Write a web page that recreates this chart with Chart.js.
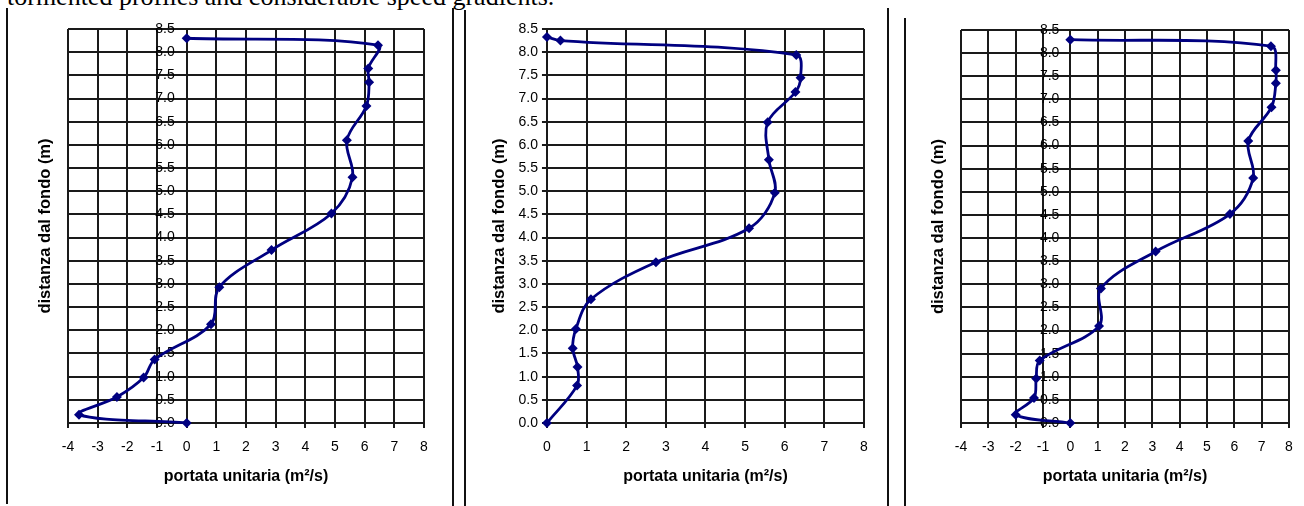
<!DOCTYPE html>
<html>
<head>
<meta charset="utf-8">
<script src="https://cdn.jsdelivr.net/npm/chart.js@4.4.1/dist/chart.umd.min.js"></script>
<style>
  html, body { margin: 0; padding: 0; background: #fff; }
  body { width: 1304px; height: 506px; position: relative; overflow: hidden; }
  .caption { position: absolute; left: 7px; top: -16px; font: 26px/26px "Liberation Serif", "Times New Roman", serif; color: #000; white-space: nowrap; }
  .rule { position: absolute; width: 2px; background: #111; bottom: 0; }
  .panel { position: absolute; top: 0; height: 506px; }
</style>
</head>
<body>
<div class="caption">tormented profiles and considerable speed gradients.</div>
<div class="rule" style="left:6px; top:8px; bottom:2px"></div>
<div class="rule" style="left:452px; top:8px"></div>
<div class="rule" style="left:464px; top:10px"></div>
<div class="rule" style="left:887px; top:8px"></div>
<div class="rule" style="left:904px; top:18px"></div>

<div class="panel" style="left:10px; width:440px"><canvas id="chart1"></canvas></div>
<div class="panel" style="left:470px; width:415px"><canvas id="chart2"></canvas></div>
<div class="panel" style="left:908px; width:396px"><canvas id="chart3"></canvas></div>

<script>
// profilo 1
const depth1 = [0, 0.18, 0.56, 0.98, 1.37, 2.13, 2.93, 3.73, 4.52, 5.30, 6.10, 6.84, 7.35, 7.65, 8.15, 8.30];
const flow1  = [0, -3.63, -2.35, -1.45, -1.08, 0.82, 1.10, 2.86, 4.88, 5.59, 5.40, 6.06, 6.15, 6.12, 6.45, 0];

// profilo 2
const depth2 = [0, 0.81, 1.21, 1.61, 2.03, 2.67, 3.47, 4.20, 4.97, 5.68, 6.49, 7.14, 7.45, 7.94, 8.25, 8.33];
const flow2  = [0, 0.76, 0.77, 0.65, 0.73, 1.11, 2.75, 5.10, 5.75, 5.60, 5.57, 6.27, 6.40, 6.29, 0.34, 0];

// profilo 3
const depth3 = [0, 0.18, 0.54, 0.96, 1.35, 2.10, 2.91, 3.71, 4.52, 5.30, 6.10, 6.83, 7.35, 7.63, 8.15, 8.29];
const flow3  = [0, -2.00, -1.33, -1.25, -1.12, 1.05, 1.12, 3.12, 5.84, 6.69, 6.51, 7.36, 7.52, 7.52, 7.34, 0];

const xTitle = 'portata unitaria (m\u00B2/s)';
const yTitle = 'distanza dal fondo (m)';

Chart.defaults.font.family = '"Liberation Sans", Arial, sans-serif';
Chart.defaults.color = '#000';

const gridColor = '#1a1a1a';
const lineColor = '#000080';

function makePanel(id, flows, depths, cfg) {
  const points = flows.map((v, i) => ({ x: v, y: depths[i] }));

  const scales = {
    x: {
      type: 'linear',
      position: 'bottom',
      min: cfg.xMin,
      max: 8,
      ticks: { stepSize: 1, maxRotation: 0, padding: 11, font: { size: 14 } },
      grid: { color: gridColor, lineWidth: 2, tickLength: 5 },
      border: { color: gridColor, width: 2 },
      title: {
        display: true, text: xTitle,
        font: { size: 16, weight: 'bold' },
        padding: { top: 0.6, bottom: 9.4 }
      }
    },
    y: {
      type: 'linear',
      min: 0,
      max: 8.5,
      // nei grafici con valori negativi le etichette stanno accanto a x = 0
      position: cfg.yAtZero ? { x: -0.4 } : 'left',
      ticks: {
        stepSize: 0.5, padding: 4, font: { size: 14 },
        callback: v => v.toFixed(1)
      },
      grid: { color: gridColor, lineWidth: 2, tickLength: 5, drawTicks: !cfg.yAtZero },
      border: { display: !cfg.yAtZero, color: gridColor, width: 2 },
      title: cfg.yAtZero ? { display: false } : {
        display: true, text: yTitle,
        font: { size: 16.5, weight: 'bold' },
        padding: { top: cfg.titleTop, bottom: cfg.titleBottom }
      }
    }
  };

  // con l'asse y spostato verso x = 0 il titolo va su un asse vuoto a sinistra
  if (cfg.yAtZero) {
    scales.yTitle = {
      type: 'linear', axis: 'y', position: 'left', min: 0, max: 8.5,
      ticks: { display: false },
      grid: { display: false, drawTicks: false },
      border: { display: false },
      title: {
        display: true, text: yTitle,
        font: { size: 16.5, weight: 'bold' },
        padding: { top: cfg.titleTop, bottom: cfg.titleBottom }
      }
    };
  }

  return new Chart(document.getElementById(id), {
    type: 'scatter',
    data: {
      datasets: [{
        data: points,
        showLine: true,
        borderColor: lineColor,
        backgroundColor: lineColor,
        borderWidth: 2.8,
        tension: 0.35,
        pointStyle: 'rectRot',
        pointRadius: 5,
        pointBorderWidth: 0,
        clip: 10
      }]
    },
    options: {
      responsive: true,
      maintainAspectRatio: false,
      animation: false,
      layout: { padding: cfg.padding },
      plugins: { legend: { display: false }, tooltip: { enabled: false } },
      scales: scales
    }
  });
}

makePanel('chart1', flow1, depth1, {
  xMin: -4, yAtZero: true, titleTop: 15.1, titleBottom: 13.1,
  padding: { left: 10, right: 26, top: 29, bottom: 10 }
});

makePanel('chart2', flow2, depth2, {
  xMin: 0, yAtZero: false, titleTop: 14.1, titleBottom: 5.6,
  padding: { left: 5, right: 21, top: 29, bottom: 10 }
});

makePanel('chart3', flow3, depth3, {
  xMin: -4, yAtZero: true, titleTop: 15.1, titleBottom: 13.1,
  padding: { left: 5, right: 15, top: 30, bottom: 10 }
});
</script>
</body>
</html>
